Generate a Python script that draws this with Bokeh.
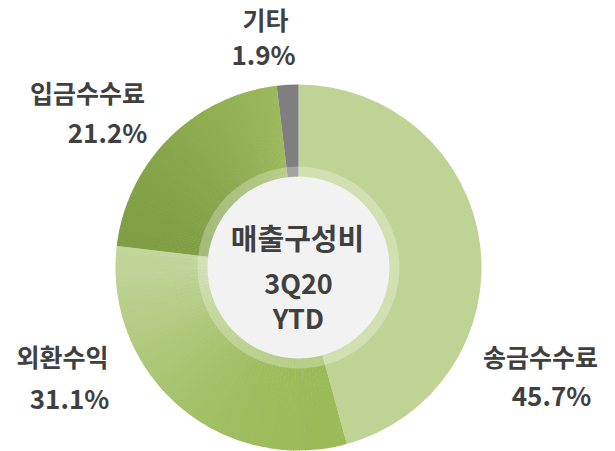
import math
from bokeh.plotting import figure
from bokeh.models import Range1d, ColumnDataSource
from bokeh.core.properties import value
from bokeh.embed import file_html
from bokeh.resources import INLINE

# ---- data ----
categories = ["송금수수료", "외환수익", "입금수수료", "기타"]
shares = [45.7, 31.1, 21.2, 1.9]
pct_labels = ["45.7%", "31.1%", "21.2%", "1.9%"]
center_title = ["매출구성비"]
center_sub = ["3Q20", "YTD"]

# ---- layout (screen px -> data coords, y flipped) ----
W, H = 615, 451
OFF = 0


def sx(x):
    return x - OFF


def sy(y):
    return H - (y - OFF)


CX, CY = sx(298), sy(267)
R_OUT, R_RING, R_IN = 183, 101, 91
FONT = value("Noto Sans CJK KR")
TXT = "#404040"

# gradient stops per slice (color at t=0 -> color at t=1)
grad = [
    ("#BFD394", "#BFD394", "flat"),
    ("#9BBB59", "#C2D69C", "diag"),
    ("#809F45", "#9CBA5C", "horiz"),
    ("#7F7F7F", "#7F7F7F", "flat"),
]


def hex2rgb(h):
    h = h.lstrip("#")
    return tuple(int(h[i:i + 2], 16) for i in (0, 2, 4))


def lerp(c0, c1, t):
    a, b = hex2rgb(c0), hex2rgb(c1)
    return "#%02x%02x%02x" % tuple(int(round(a[i] + (b[i] - a[i]) * t)) for i in range(3))


p = figure(width=W, height=H, output_backend="svg", toolbar_location=None,
           x_range=Range1d(0, W), y_range=Range1d(0, H),
           min_border=0, background_fill_color="white", border_fill_color="white")
p.axis.visible = False
p.grid.visible = False
p.outline_line_color = None

total = sum(shares)
cum = 0.0
xs, ys, starts, ends, colors = [], [], [], [], []
N = 60
for share, (c0, c1, mode) in zip(shares, grad):
    f0 = cum / total
    f1 = (cum + share) / total
    cum += share
    n = N if mode != "flat" else 1

    def proj(th):
        s, c = math.sin(th), math.cos(th)
        if mode == "diag":
            return (-s + c) / math.sqrt(2)
        return s

    ths = [2 * math.pi * (f0 + (f1 - f0) * k / n) for k in range(n + 1)]
    pv = [proj(t) for t in ths]
    lo, hi = min(pv), max(pv)
    for k in range(n):
        a0 = math.pi / 2 - ths[k]
        a1 = math.pi / 2 - (ths[k + 1] + (0.004 if k < n - 1 else 0))
        if mode == "flat":
            col = c0
        else:
            tm = 0.5 * (ths[k] + ths[k + 1])
            t = (proj(tm) - lo) / (hi - lo) if hi > lo else 0
            if mode == "diag":
                t = t ** 1.8
            col = lerp(c0, c1, t)
        xs.append(CX); ys.append(CY)
        starts.append(a0); ends.append(a1); colors.append(col)

src = ColumnDataSource(dict(x=xs, y=ys, s=starts, e=ends, c=colors))
p.annular_wedge(x="x", y="y", inner_radius=0, outer_radius=R_OUT,
                start_angle="s", end_angle="e", direction="clock",
                fill_color="c", line_color=None, source=src)

# inner ring and center disc
p.circle(x=[CX], y=[CY], radius=R_RING, fill_color="white", fill_alpha=0.28, line_color=None)
p.circle(x=[CX], y=[CY], radius=R_IN, fill_color="#F2F2F2", line_color=None)

# center text
p.text(x=[CX - 1], y=[sy(236)], text=center_title,
       text_font=FONT, text_font_style="bold", text_font_size="29px",
       text_color=TXT, text_align="center", text_baseline="middle")
p.text(x=[CX, CX], y=[sy(282), sy(317)], text=center_sub,
       text_font=FONT, text_font_style="bold", text_font_size="27px",
       text_color=TXT, text_align="center", text_baseline="middle")

# slice labels
name_pos = [(540, 355), (62, 355), (87, 91), (265, 18)]
pct_pos = [(551, 394), (69, 397), (107, 131), (263, 53)]
p.text(x=[sx(q[0]) for q in name_pos], y=[sy(q[1]) for q in name_pos], text=categories,
       text_font=FONT, text_font_style="bold", text_font_size="25px",
       text_color=TXT, text_align="center", text_baseline="middle")
p.text(x=[sx(q[0]) for q in pct_pos], y=[sy(q[1]) for q in pct_pos], text=pct_labels,
       text_font=FONT, text_font_style="bold", text_font_size="26px",
       text_color=TXT, text_align="center", text_baseline="middle")

open("out.html", "w").write(file_html(p, INLINE))
